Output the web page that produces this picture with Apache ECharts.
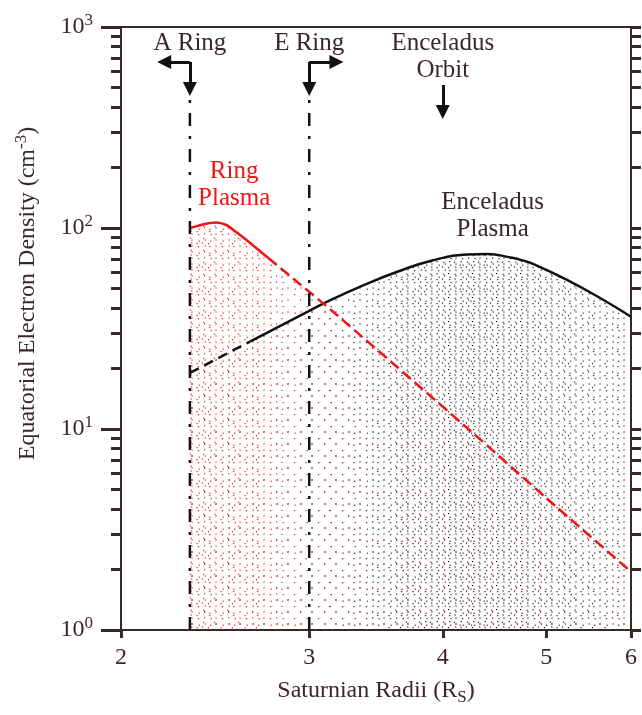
<!DOCTYPE html>
<html>
<head>
<meta charset="utf-8">
<script src="https://cdn.jsdelivr.net/npm/echarts@6/dist/echarts.min.js"></script>
<style>
  html, body { margin: 0; padding: 0; background: #fff; }
  #chart { width: 642px; height: 715px; }
</style>
</head>
<body>
<div id="chart"></div>
<script>
// Ring plasma density (red)
const ringX = [2.32, 2.398, 2.455, 2.509, 2.563, 2.631, 2.747, 2.924, 3.16, 3.6, 4.248, 5.0, 6.0];
const ringY = [100, 104.7, 106.5, 103.5, 95.5, 85.7, 70.9, 53.9, 38.2, 21.0, 9.77, 4.53, 1.95];
const ringSolidEnd = 6; // last index drawn solid, dashed after

// Enceladus plasma density (black)
const encX = [2.32, 2.643, 3.0, 3.14, 3.374, 3.627, 3.925, 4.218, 4.404, 4.631, 4.75, 4.87, 5.233, 5.624, 6.0];
const encY = [19, 27.3, 38.7, 43.8, 52.0, 60.6, 69.3, 73.8, 74.2, 71.3, 69.0, 66.0, 55.1, 44.6, 36.2];
const encDashEnd = 1; // last index drawn dashed, solid after

// A ring / E ring boundaries
const boundaryX = [2.32, 3.0];
const boundaryTop = 443;

// ticks
const xTicks = [2, 3, 4, 5, 6];
const yMajor = [1, 10, 100, 1000];
const yMinor = [2, 3, 4, 5, 6, 7, 8, 9, 20, 30, 40, 50, 60, 70, 80, 90, 200, 300, 400, 500, 600, 700, 800, 900];

// annotations
const noteText = ['A Ring', 'E Ring', 'Enceladus\nOrbit', 'Ring\nPlasma', 'Enceladus\nPlasma'];
const noteX = [2.32, 3.0, 4.0, 2.552, 4.454];
const noteY = [832, 832, 713, 164, 115];

// arrows [from, to]
const arrowSegs = [
  [[2.32, 670], [2.32, 492]],
  [[2.32, 670], [2.195, 670]],
  [[3.0, 670], [3.0, 492]],
  [[3.0, 670], [3.181, 670]],
  [[4.0, 514], [4.0, 378]]
];

const ink = '#3a2828';
const red = '#f01414';
const font = 'Liberation Serif';

// stipple texture: ordered dither, density varies across the page
function bayer8(x, y) {
  let v = 0;
  for (let b = 0; b < 3; b++) {
    const xb = (x >> b) & 1, yb = (y >> b) & 1;
    v = (v << 2) | ((xb ^ yb) << 1) | yb;
  }
  return v;
}
function lerpStops(stops, x) {
  if (x <= stops[0][0]) return stops[0][1];
  for (let i = 1; i < stops.length; i++) {
    if (x <= stops[i][0]) {
      const t = (x - stops[i - 1][0]) / (stops[i][0] - stops[i - 1][0]);
      return stops[i - 1][1] + t * (stops[i][1] - stops[i - 1][1]);
    }
  }
  return stops[stops.length - 1][1];
}
function stipple(color, stops) {
  const c = document.createElement('canvas');
  c.width = 642; c.height = 715;
  const ctx = c.getContext('2d');
  ctx.fillStyle = color;
  const cell = 3;
  for (let gy = 0; gy * cell < 715; gy++) {
    for (let gx = 0; gx * cell < 642; gx++) {
      const v = bayer8(gx % 8, gy % 8);
      const x = gx * cell + (gy % 2 ? 1.5 : 0) + ((v % 3) - 1) * 0.6;
      const p = lerpStops(stops, x);
      if ((v + 0.5) / 64 < p) ctx.fillRect(x, gy * cell + ((v >> 2) % 3 - 1) * 0.6, 1.2, 1.2);
    }
  }
  return c;
}
const redDots = stipple(red, [[180, 0.45], [240, 0.34], [300, 0.15], [360, 0.06], [630, 0.03]]);
const blackDots = stipple('#2a2020', [[180, 0.03], [300, 0.06], [360, 0.2], [410, 0.45], [470, 0.55], [540, 0.45], [630, 0.25]]);

const pairs = (xs, ys) => xs.map((x, i) => [x, ys[i]]);
const ringData = pairs(ringX, ringY);
const encData = pairs(encX, encY);

const supRich = {
  b: { fontSize: 24, lineHeight: 30, fontFamily: font, color: ink },
  s: { fontSize: 17, lineHeight: 17, verticalAlign: 'top', fontFamily: font, color: ink }
};
const subRich = {
  b: { fontSize: 24, lineHeight: 30, fontFamily: font, color: ink },
  s: { fontSize: 17, lineHeight: 17, verticalAlign: 'bottom', fontFamily: font, color: ink }
};

const chart = echarts.init(document.getElementById('chart'), null, { renderer: 'canvas' });

const series = [
  {
    type: 'line', data: encData, showSymbol: false, silent: true, smooth: 0.45,
    lineStyle: { width: 0 },
    areaStyle: { color: { image: blackDots, repeat: 'repeat' }, opacity: 1, origin: 'start' }
  },
  {
    type: 'line', data: ringData, showSymbol: false, silent: true, smooth: 0.3,
    lineStyle: { width: 0 },
    areaStyle: { color: { image: redDots, repeat: 'repeat' }, opacity: 1, origin: 'start' }
  },
  {
    type: 'line', data: encData.slice(0, encDashEnd + 1), showSymbol: false, silent: true,
    lineStyle: { color: '#111', width: 2.5, type: [10, 6] }
  },
  {
    type: 'line', data: encData.slice(encDashEnd), showSymbol: false, silent: true, smooth: 0.45,
    lineStyle: { color: '#111', width: 2.5 }
  },
  {
    type: 'line', data: ringData.slice(0, ringSolidEnd + 1), showSymbol: false, silent: true, smooth: 0.3,
    lineStyle: { color: red, width: 2.5 }
  },
  {
    type: 'line', data: ringData.slice(ringSolidEnd), showSymbol: false, silent: true, smooth: 0.2,
    lineStyle: { color: red, width: 2.5, type: [11, 5] }
  }
];

boundaryX.forEach(x => {
  series.push({
    type: 'line', data: [[x, 1], [x, boundaryTop]], showSymbol: false, silent: true,
    lineStyle: { color: '#111', width: 2.5, type: [13, 10, 3, 10] }
  });
});

series.push({
  type: 'lines', coordinateSystem: 'cartesian2d', silent: true,
  symbol: ['none', 'triangle'], symbolSize: [14, 14],
  lineStyle: { color: '#111', width: 3, opacity: 1 },
  data: arrowSegs.map(seg => ({ coords: seg }))
});

series.push({
  type: 'scatter', silent: true, symbolSize: 1,
  itemStyle: { color: 'transparent', opacity: 1 },
  label: {
    show: true, position: 'inside', formatter: p => p.name,
    fontFamily: font, fontSize: 25, lineHeight: 27, color: ink, opacity: 1
  },
  data: noteText.map((t, i) => ({
    name: t, value: [noteX[i], noteY[i]],
    label: t === 'Ring\nPlasma' ? { color: red } : undefined
  }))
});

const option = {
  animation: false,
  backgroundColor: '#fff',
  textStyle: { fontFamily: font },
  grid: { left: 121, right: 11, top: 27, bottom: 85 },
  xAxis: [
    {
      type: 'log', min: 2, max: 6, position: 'bottom',
      axisLine: { onZero: false, lineStyle: { color: ink, width: 2 } },
      axisTick: { customValues: xTicks, length: 8, lineStyle: { color: ink, width: 3 } },
      axisLabel: { customValues: xTicks, fontSize: 24, color: ink, margin: 16, fontFamily: font,
        formatter: v => String(Math.round(v)) },
      splitLine: { show: false }, minorTick: { show: false },
      name: '{b|Saturnian Radii (R}{s|S}{b|)}', nameLocation: 'middle', nameGap: 46,
      nameTextStyle: { rich: subRich }
    },
    {
      type: 'log', min: 2, max: 6, position: 'top',
      axisLine: { onZero: false, lineStyle: { color: ink, width: 2 } },
      axisTick: { show: false }, axisLabel: { show: false }, splitLine: { show: false }
    }
  ],
  yAxis: [
    {
      type: 'log', min: 1, max: 1000, position: 'left',
      axisLine: { onZero: false, lineStyle: { color: ink, width: 2 } },
      axisTick: { customValues: yMajor, length: 20, lineStyle: { color: ink, width: 3 } },
      axisLabel: { customValues: yMajor, margin: 28, rich: supRich,
        formatter: v => '{b|10}{s|' + Math.round(Math.log10(v)) + '}' },
      splitLine: { show: false }, minorTick: { show: false },
      name: '{b|Equatorial Electron Density (cm}{s|-3}{b|)}', nameLocation: 'middle', nameGap: 78,
      nameRotate: 90,
      nameTextStyle: { rich: supRich, padding: [0, 0, 0, 70] }
    },
    {
      type: 'log', min: 1, max: 1000, position: 'left',
      axisLine: { show: false },
      axisTick: { customValues: yMinor, length: 10, lineStyle: { color: ink, width: 3 } },
      axisLabel: { show: false }, splitLine: { show: false }
    },
    {
      type: 'log', min: 1, max: 1000, position: 'right',
      axisLine: { onZero: false, lineStyle: { color: ink, width: 2 } },
      axisTick: { customValues: yMajor.concat(yMinor), length: 10, lineStyle: { color: ink, width: 3 } },
      axisLabel: { show: false }, splitLine: { show: false }
    }
  ],
  series: series
};

chart.setOption(option);
</script>
</body>
</html>
